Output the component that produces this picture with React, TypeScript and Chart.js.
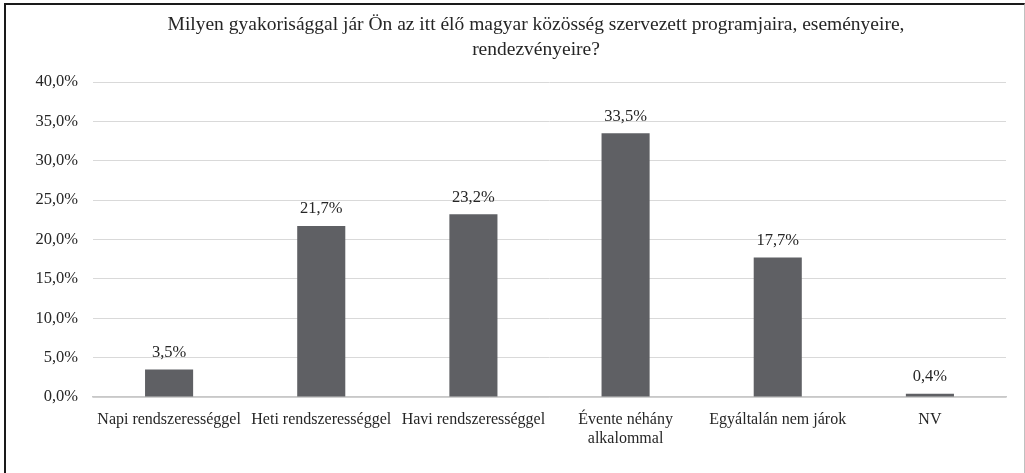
import React, { useEffect, useRef } from "react";
import { Chart, registerables } from "chart.js";

Chart.register(...registerables);

const categories: (string | string[])[] = [
  "Napi rendszerességgel",
  "Heti rendszerességgel",
  "Havi rendszerességgel",
  ["Évente néhány", "alkalommal"],
  "Egyáltalán nem járok",
  "NV",
];
const values: number[] = [3.5, 21.7, 23.2, 33.5, 17.7, 0.4];
const titleLines: string[] = [
  "Milyen gyakorisággal jár Ön az itt élő magyar közösség szervezett programjaira, eseményeire,",
  "rendezvényeire?",
];
const yMin = 0;
const yMax = 40;
const yStep = 5;

const FONT = "'Liberation Serif', 'Times New Roman', serif";

const fmt = (v: number) => v.toFixed(1).replace(".", ",") + "%";

const titlePlugin = {
  id: "customTitle",
  afterDraw(chart: any) {
    const ctx = chart.ctx;
    ctx.save();
    ctx.fillStyle = "#262626";
    ctx.font = `19.5px ${FONT}`;
    ctx.textAlign = "center";
    ctx.textBaseline = "middle";
    titleLines.forEach((line, i) => ctx.fillText(line, 536, 25 + i * 25));
    ctx.restore();
  },
};

const labelPlugin = {
  id: "valueLabels",
  afterDatasetsDraw(chart: any) {
    const ctx = chart.ctx;
    const meta = chart.getDatasetMeta(0);
    ctx.save();
    ctx.fillStyle = "#262626";
    ctx.font = `16.5px ${FONT}`;
    ctx.textAlign = "center";
    ctx.textBaseline = "middle";
    meta.data.forEach((bar: any, i: number) => {
      ctx.fillText(fmt(values[i]), bar.x, bar.y - 17);
    });
    ctx.restore();
  },
};

export default function App() {
  const ref = useRef<HTMLCanvasElement>(null);
  useEffect(() => {
    const chart = new Chart(ref.current!, {
      type: "bar",
      data: {
        labels: categories,
        datasets: [
          {
            data: values,
            backgroundColor: "#5f6064",
            categoryPercentage: 1,
            barPercentage: 0.316,
          },
        ],
      },
      options: {
        animation: false,
        responsive: false,
        maintainAspectRatio: false,
        layout: { padding: { top: 82, left: 0, right: 19, bottom: 16 } },
        plugins: {
          legend: { display: false },
          title: { display: false },
          tooltip: { enabled: false },
        },
        scales: {
          x: {
            grid: { display: false, drawTicks: false },
            border: { color: "#c8c8c8", width: 1.5 },
            ticks: {
              color: "#262626",
              font: { family: FONT, size: 16, lineHeight: 1.15 },
              padding: 14,
              maxRotation: 0,
              autoSkip: false,
            },
            afterFit(scale: any) {
              scale.height = 60;
            },
          },
          y: {
            min: yMin,
            max: yMax,
            grid: { color: "#d9d9d9", drawTicks: false },
            border: { display: false },
            ticks: {
              stepSize: yStep,
              color: "#262626",
              font: { family: FONT, size: 16.5 },
              padding: 15,
              callback: (v: any) => fmt(Number(v)),
            },
            afterFit(scale: any) {
              scale.width = 93;
            },
          },
        },
      },
      plugins: [titlePlugin, labelPlugin],
    });
    return () => chart.destroy();
  }, []);

  return (
    <div
      style={{
        position: "absolute",
        left: 0,
        top: 0,
        width: 1025,
        height: 473,
        background: "#fff",
        overflow: "hidden",
      }}
    >
      <div
        style={{
          position: "absolute",
          left: 4,
          top: 3,
          width: 1018,
          height: 520,
          borderLeft: "2px solid #1a1a1a",
          borderTop: "2px solid #1a1a1a",
          borderRight: "1px solid #c0c0c0",
        }}
      />
      <canvas
        ref={ref}
        width={1025}
        height={473}
        style={{ position: "absolute", left: 0, top: 0 }}
      />
    </div>
  );
}
